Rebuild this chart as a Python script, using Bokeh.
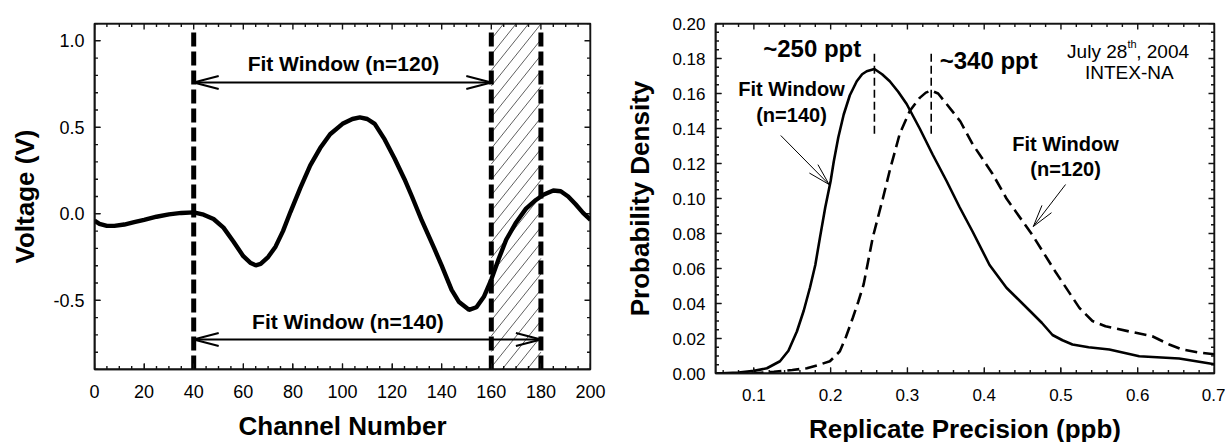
import math
from bokeh.plotting import figure
from bokeh.layouts import row
from bokeh.models import FixedTicker, NumeralTickFormatter, Range1d, Label, BoxAnnotation
from bokeh.embed import file_html
from bokeh.resources import INLINE

# ---------------- data: left panel ----------------
channel = [0, 2, 5, 8, 12, 16, 20, 25, 30, 35, 40, 44, 48, 52, 56, 60, 63, 65, 67, 70,
           73, 76, 79, 83, 87, 91, 95, 100, 104, 107, 110, 113, 117, 121, 125, 128, 132,
           137, 140, 144, 147, 151, 154, 157, 160, 163, 166, 170, 174, 178, 181, 185, 188,
           191, 194, 197, 200]
voltage = [-0.04, -0.058, -0.07, -0.07, -0.062, -0.048, -0.035, -0.017, -0.003, 0.005, 0.008,
           -0.005, -0.03, -0.08, -0.16, -0.245, -0.285, -0.298, -0.29, -0.25,
           -0.19, -0.1, 0.01, 0.15, 0.28, 0.38, 0.46, 0.52, 0.548, 0.557, 0.548, 0.52, 0.43,
           0.32, 0.2, 0.1, -0.04, -0.2, -0.3, -0.44, -0.51, -0.555, -0.54, -0.48, -0.38,
           -0.26, -0.15, -0.05, 0.03, 0.08, 0.11, 0.135, 0.13, 0.1, 0.055, 0.005, -0.035]
window_edges = [40, 160, 180]
excluded_span = [160, 180]
window_120 = [40, 160]
window_140 = [40, 180]
window_120_level = 0.759
window_140_level = -0.727
label_120 = "Fit Window (n=120)"
label_140 = "Fit Window (n=140)"
left_x_ticks = [0, 20, 40, 60, 80, 100, 120, 140, 160, 180, 200]
left_y_ticks = [-0.5, 0.0, 0.5, 1.0]

# ---------------- data: right panel ----------------
prec_140 = [0.05, 0.08, 0.10, 0.117, 0.134, 0.145, 0.156, 0.165, 0.173, 0.18, 0.186, 0.193,
            0.2, 0.204, 0.21, 0.217, 0.225, 0.234, 0.241, 0.247, 0.257, 0.267, 0.277, 0.288,
            0.299, 0.316, 0.333, 0.351, 0.368, 0.385, 0.407, 0.429, 0.459, 0.475, 0.489,
            0.502, 0.515, 0.536, 0.563, 0.602, 0.654, 0.7]
dens_140 = [0.0, 0.0005, 0.0015, 0.003, 0.007, 0.013, 0.024, 0.036, 0.049, 0.062, 0.0775,
            0.095, 0.11, 0.121, 0.135, 0.148, 0.159, 0.167, 0.171, 0.1727, 0.174, 0.171, 0.167,
            0.161, 0.154, 0.140, 0.125, 0.110, 0.095, 0.081, 0.062, 0.049, 0.036, 0.029, 0.022,
            0.019, 0.0166, 0.015, 0.0137, 0.0099, 0.0086, 0.0053]
prec_120 = [0.05, 0.10, 0.126, 0.15, 0.169, 0.185, 0.199, 0.212, 0.22, 0.229, 0.236, 0.243,
            0.255, 0.268, 0.277, 0.29, 0.303, 0.316, 0.324, 0.331, 0.34, 0.351, 0.369, 0.385,
            0.411, 0.429, 0.463, 0.493, 0.524, 0.541, 0.558, 0.589, 0.619, 0.641, 0.658, 0.68, 0.7]
dens_120 = [0.0, 0.0, 0.001, 0.002, 0.003, 0.005, 0.007, 0.0127, 0.021, 0.032, 0.041, 0.051,
            0.078, 0.100, 0.116, 0.137, 0.150, 0.1575, 0.1605, 0.1617, 0.160, 0.154, 0.144,
            0.131, 0.114, 0.100, 0.079, 0.058, 0.0375, 0.030, 0.027, 0.024, 0.0213, 0.0166,
            0.0137, 0.012, 0.011]
peak_x = [0.257, 0.331]
peak_y0 = [0.137, 0.137]
peak_y1 = [0.184, 0.184]
right_x_ticks = [0.1, 0.2, 0.3, 0.4, 0.5, 0.6, 0.7]
right_y_ticks = [0.0, 0.02, 0.04, 0.06, 0.08, 0.10, 0.12, 0.14, 0.16, 0.18, 0.20]

FONT_NAME = "Liberation Sans"
FRAME = "#141414"


def minor_between(start, end, step):
    n = int(round((end - start) / step))
    return [start + i * step for i in range(n + 1)]


def style_axes(p, xt, yt, xfmt, yfmt, xlabel, ylabel, tick_size, xlab_standoff, ylab_standoff):
    p.xaxis.ticker = FixedTicker(ticks=xt)
    p.yaxis.ticker = FixedTicker(ticks=yt)
    p.xaxis.formatter = NumeralTickFormatter(format=xfmt)
    p.yaxis.formatter = NumeralTickFormatter(format=yfmt)
    p.xaxis.axis_label = xlabel
    p.yaxis.axis_label = ylabel
    p.xaxis.axis_label_standoff = xlab_standoff
    p.yaxis.axis_label_standoff = ylab_standoff
    for ax in p.axis:
        ax.major_label_text_font = FONT_NAME
        ax.major_label_text_font_size = tick_size
        ax.major_label_text_color = "black"
        ax.axis_label_text_font = FONT_NAME
        ax.axis_label_text_font_size = "26px"
        ax.axis_label_text_font_style = "bold"
        ax.axis_label_text_color = "black"
        ax.major_tick_in = 6
        ax.major_tick_out = 0
        ax.minor_tick_in = 0
        ax.minor_tick_out = 0
        ax.major_tick_line_color = FRAME
        ax.axis_line_color = FRAME
        ax.axis_line_width = 1.5
    p.xaxis.major_label_standoff = 15
    p.yaxis.major_label_standoff = 10
    p.grid.visible = False
    p.outline_line_color = FRAME
    p.outline_line_width = 1.5


def add_frame_ticks(p, x0, x1, y0, y1, xmaj, xmin, ymaj, ymin, sx, sy):
    """frame box and inward tick marks on all four sides (pixel lengths -> data units)."""
    p.add_layout(BoxAnnotation(left=x0, right=x1, bottom=y0, top=y1, fill_alpha=0,
                               line_color=FRAME, line_width=1.5, line_alpha=1))
    p.quad(left=[x0], right=[x1], bottom=[y0], top=[y1], fill_color=None,
           line_color=FRAME, line_width=1.8)
    for ticks, ln in [(xmaj, 6.0), (xmin, 3.5)]:
        d = ln / sy
        n = len(ticks)
        p.segment(x0=ticks, y0=[y0] * n, x1=ticks, y1=[y0 + d] * n, line_color=FRAME, line_width=1.4)
        p.segment(x0=ticks, y0=[y1] * n, x1=ticks, y1=[y1 - d] * n, line_color=FRAME, line_width=1.4)
    for ticks, ln in [(ymaj, 6.0), (ymin, 3.5)]:
        d = ln / sx
        n = len(ticks)
        p.segment(x0=[x0] * n, y0=ticks, x1=[x0 + d] * n, y1=ticks, line_color=FRAME, line_width=1.4)
        p.segment(x0=[x1] * n, y0=ticks, x1=[x1 - d] * n, y1=ticks, line_color=FRAME, line_width=1.4)


def head(x0, y0, x1, y1, sx, sy, L, W):
    dx = (x1 - x0) * sx
    dy = (y1 - y0) * sy
    n = math.hypot(dx, dy)
    ux, uy = dx / n, dy / n
    bx, by = x1 * sx - L * ux, y1 * sy - L * uy
    nx, ny = -uy, ux
    xs = [(bx + W * nx) / sx, x1, (bx - W * nx) / sx]
    ys = [(by + W * ny) / sy, y1, (by - W * ny) / sy]
    return xs, ys


def label(p, x, y, text, size, bold=False, align="center"):
    p.add_layout(Label(x=x, y=y, text=text, text_font=FONT_NAME, text_font_size=size,
                       text_font_style="bold" if bold else "normal", text_align=align,
                       text_baseline="middle", text_color="black"))


# ---------------- left figure ----------------
LX0, LX1, LY0, LY1 = 0, 200, -0.9, 1.1
p1 = figure(frame_width=496, frame_height=346, x_range=Range1d(LX0, LX1), y_range=Range1d(LY0, LY1),
            output_backend="svg", toolbar_location=None,
            min_border_left=94, min_border_right=30, min_border_top=23, min_border_bottom=71)
style_axes(p1, left_x_ticks, left_y_ticks, "0", "0.0", "Channel Number", "Voltage (V)",
           "18px", 10, 10)
SX1, SY1 = 496 / (LX1 - LX0), 346 / (LY1 - LY0)
add_frame_ticks(p1, LX0, LX1, LY0, LY1, left_x_ticks,
                [v for v in minor_between(0, 200, 5) if v not in left_x_ticks],
                left_y_ticks,
                [v for v in minor_between(-0.9, 1.1, 0.1) if all(abs(v - t) > 1e-6 for t in left_y_ticks)],
                SX1, SY1)

# diagonal hatching of the excluded channels (slope and spacing in pixels)
k = 1.25 * SX1 / SY1
step = 12.5 / SX1
hx0, hy0, hx1, hy1 = [], [], [], []
c = excluded_span[0] - (LY1 - LY0) / k
while c < excluded_span[1]:
    lo = max(excluded_span[0], c)
    hi = min(excluded_span[1], c + (LY1 - LY0) / k)
    if lo < hi:
        hx0.append(lo); hy0.append(LY0 + k * (lo - c))
        hx1.append(hi); hy1.append(LY0 + k * (hi - c))
    c += step
p1.segment(x0=hx0, y0=hy0, x1=hx1, y1=hy1, line_color="black", line_width=0.7, line_alpha=0.9)

p1.line(channel, voltage, line_width=4.4, color="black")
p1.segment(x0=window_edges, y0=[LY0] * 3, x1=window_edges, y1=[1.07] * 3,
           line_width=5, color="black", line_dash="14 5")

for (a, b), lvl in [(window_120, window_120_level), (window_140, window_140_level)]:
    p1.segment(x0=[a], y0=[lvl], x1=[b], y1=[lvl], line_width=2, color="black")
    hxa, hya = head(b, lvl, a, lvl, SX1, SY1, 25, 6.5)
    hxb, hyb = head(a, lvl, b, lvl, SX1, SY1, 25, 6.5)
    p1.multi_line(xs=[hxa, hxb], ys=[hya, hyb], line_width=2, color="black")

label(p1, 100.4, 0.866, label_120, "21px", bold=True)
label(p1, 102.2, -0.625, label_140, "21px", bold=True)

# ---------------- right figure ----------------
RX0, RX1, RY0, RY1 = 0.05, 0.7, 0.0, 0.2
p2 = figure(frame_width=499, frame_height=350, x_range=Range1d(RX0, RX1), y_range=Range1d(RY0, RY1),
            output_backend="svg", toolbar_location=None,
            min_border_left=95, min_border_right=11, min_border_top=19, min_border_bottom=71)
style_axes(p2, right_x_ticks, right_y_ticks, "0.0", "0.00", "Replicate Precision (ppb)",
           "Probability Density", "17px", 10, 14)
SX2, SY2 = 499 / (RX1 - RX0), 350 / (RY1 - RY0)
add_frame_ticks(p2, RX0, RX1, RY0, RY1, right_x_ticks,
                [v for v in minor_between(0.06, 0.7, 0.02) if all(abs(v - t) > 1e-6 for t in right_x_ticks)],
                right_y_ticks,
                [v for v in minor_between(0.0, 0.2, 0.005) if all(abs(v - t) > 1e-6 for t in right_y_ticks)],
                SX2, SY2)

p2.line(prec_140, dens_140, line_width=2.6, color="black")
p2.line(prec_120, dens_120, line_width=2.6, color="black", line_dash="12 6")
p2.segment(x0=peak_x, y0=peak_y0, x1=peak_x, y1=peak_y1, line_width=1.6, color="black",
           line_dash="8 4")

for (x0, y0, x1, y1) in [(0.135, 0.136, 0.198, 0.108), (0.506, 0.108, 0.464, 0.084)]:
    p2.segment(x0=[x0], y0=[y0], x1=[x1], y1=[y1], line_width=1, color="black")
    hx, hy = head(x0, y0, x1, y1, SX2, SY2, 22, 6)
    p2.line(hx, hy, line_width=1, color="black")

label(p2, 0.176, 0.186, "~250 ppt", "24px", bold=True)
label(p2, 0.342, 0.179, "~340 ppt", "24px", bold=True, align="left")
label(p2, 0.149, 0.1623, "Fit Window", "20px", bold=True)
label(p2, 0.149, 0.148, "(n=140)", "20px", bold=True)
label(p2, 0.506, 0.131, "Fit Window", "20px", bold=True)
label(p2, 0.506, 0.1166, "(n=120)", "20px", bold=True)
label(p2, 0.5864, 0.184, "July 28", "19px", align="right")
label(p2, 0.5866, 0.1885, "th", "11px", align="left")
label(p2, 0.598, 0.184, ", 2004", "19px", align="left")
label(p2, 0.589, 0.1718, "INTEX-NA", "19px")

layout = row(p1, p2)
open("out.html", "w").write(file_html(layout, INLINE))
